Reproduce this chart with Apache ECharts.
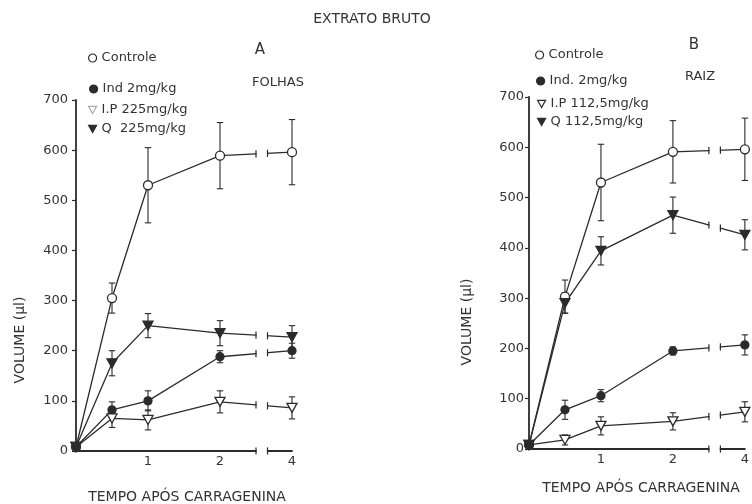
<!DOCTYPE html>
<html>
<head>
<meta charset="utf-8">
<script src="https://cdn.jsdelivr.net/npm/echarts@6/dist/echarts.min.js"></script>
<style>html,body{margin:0;padding:0;background:#fff;}#c{width:752px;height:504px;}</style>
</head>
<body>
<div id="c"></div>
<script>
// ---- data ----
// time after carrageenin (h); the axis is broken after 2.5 h, so 4 h is drawn at axis position 3
const hours = [0, 0.5, 1, 2, 4];
const xPos = [0, 0.5, 1, 2, 3];
const xTickValues = [1, 2, 3];
const xTickLabels = ['1', '2', '4'];
const yTicks = [0, 100, 200, 300, 400, 500, 600, 700];

// Panel A - FOLHAS
const namesA = ['Controle', 'Ind 2mg/kg', 'I.P 225mg/kg', 'Q  225mg/kg'];
const controleA = [8, 305, 530, 589, 596];
const controleAErr = [0, 30, 75, 66, 65];
const indA = [8, 82, 100, 188, 200];
const indAErr = [0, 16, 20, 12, 15];
const ipA = [8, 65, 62, 98, 86];
const ipAErr = [0, 18, 20, 22, 22];
const qA = [8, 175, 250, 235, 227];
const qAErr = [0, 25, 24, 25, 23];

// Panel B - RAIZ
const namesB = ['Controle', 'Ind. 2mg/kg', 'I.P 112,5mg/kg', 'Q 112,5mg/kg'];
const controleB = [8, 303, 530, 591, 596];
const controleBErr = [0, 33, 76, 62, 62];
const indB = [8, 78, 106, 195, 207];
const indBErr = [0, 19, 12, 8, 20];
const ipB = [8, 18, 46, 55, 74];
const ipBErr = [0, 10, 18, 17, 20];
const qB = [8, 290, 394, 465, 426];
const qBErr = [0, 20, 28, 36, 30];

// ---- style ----
const INK = '#2b2b2b';
const TXT = '#333';
const FONT = 'DejaVu Sans';
const GAP = [2.5, 2.66];
const DOWN_TRI = 'path://M0,0L10,0L5,9Z';
const markers = [
  { symbol: 'circle', size: 9, fill: '#fff' },
  { symbol: 'circle', size: 8, fill: INK },
  { symbol: DOWN_TRI, size: [10, 9], fill: '#fff' },
  { symbol: DOWN_TRI, size: [10, 9], fill: INK }
];

function lineSeries(name, vals, k, gi) {
  const m = markers[k];
  return {
    type: 'line', name: name, xAxisIndex: gi, yAxisIndex: gi, z: 3,
    data: xPos.map((x, i) => [x, vals[i]]),
    symbol: m.symbol, symbolSize: m.size, showAllSymbol: true,
    itemStyle: { color: m.fill, borderColor: INK, borderWidth: 1.3 },
    lineStyle: { color: INK, width: 1.3 },
    emphasis: { disabled: true }, animation: false
  };
}
function errSeries(vals, errs, gi) {
  return {
    type: 'custom', xAxisIndex: gi, yAxisIndex: gi, z: 2, silent: true, animation: false,
    encode: { x: 0, y: [1, 2] },
    data: xPos.map((x, i) => [x, vals[i] - errs[i], vals[i] + errs[i]]).filter((d, i) => errs[i] > 0),
    renderItem: function (params, api) {
      const x = api.value(0), lo = api.value(1), hi = api.value(2);
      const p1 = api.coord([x, hi]), p2 = api.coord([x, lo]);
      const c = 3.2, st = { stroke: INK, lineWidth: 1.1 };
      return { type: 'group', children: [
        { type: 'line', shape: { x1: p1[0], y1: p1[1], x2: p2[0], y2: p2[1] }, style: st },
        { type: 'line', shape: { x1: p1[0] - c, y1: p1[1], x2: p1[0] + c, y2: p1[1] }, style: st },
        { type: 'line', shape: { x1: p2[0] - c, y1: p2[1], x2: p2[0] + c, y2: p2[1] }, style: st }
      ] };
    }
  };
}
function breakSeries(groups, gi) {
  // segments crossing the axis break: last segment of each curve plus the x axis line itself
  const rows = groups.map(v => [xPos[3], v[3], xPos[4], v[4]]);
  rows.push([0, 0, xPos[4], 0]);
  return {
    type: 'custom', xAxisIndex: gi, yAxisIndex: gi, z: 10, silent: true, animation: false,
    encode: { x: [0, 2], y: [1, 3] },
    data: rows,
    renderItem: function (params, api) {
      const a = api.coord([api.value(0), api.value(1)]);
      const b = api.coord([api.value(2), api.value(3)]);
      const gs = api.coord([GAP[0], 0])[0], ge = api.coord([GAP[1], 0])[0];
      const yAt = gx => a[1] + (b[1] - a[1]) * (gx - a[0]) / (b[0] - a[0]);
      const ys = yAt(gs), ye = yAt(ge), h = 3.6, w = 3;
      const st = { stroke: INK, lineWidth: 1.2 };
      return { type: 'group', children: [
        { type: 'polygon', shape: { points: [[gs + 0.6, ys - w], [ge - 0.6, ye - w], [ge - 0.6, ye + w], [gs + 0.6, ys + w]] }, style: { fill: '#fff' } },
        { type: 'line', shape: { x1: gs, y1: ys - h, x2: gs, y2: ys + h }, style: st },
        { type: 'line', shape: { x1: ge, y1: ye - h, x2: ge, y2: ye + h }, style: st }
      ] };
    }
  };
}

const groupsA = [controleA, indA, ipA, qA];
const errsA = [controleAErr, indAErr, ipAErr, qAErr];
const groupsB = [controleB, indB, ipB, qB];
const errsB = [controleBErr, indBErr, ipBErr, qBErr];

const series = [];
groupsA.forEach((v, k) => series.push(errSeries(v, errsA[k], 0)));
groupsB.forEach((v, k) => series.push(errSeries(v, errsB[k], 1)));
groupsA.forEach((v, k) => series.push(lineSeries(namesA[k], v, k, 0)));
groupsB.forEach((v, k) => series.push(lineSeries(namesB[k], v, k, 1)));
series.push(breakSeries(groupsA, 0));
series.push(breakSeries(groupsB, 1));

function xAxis(gi) {
  return {
    type: 'value', gridIndex: gi, min: 0, max: 3, interval: 0.5,
    axisLine: { show: true, lineStyle: { color: INK, width: 1.8 } },
    axisTick: { show: false },
    splitLine: { show: false },
    axisLabel: {
      customValues: xTickValues,
      formatter: v => xTickLabels[xTickValues.indexOf(v)],
      color: TXT, fontFamily: FONT, fontSize: 13, margin: 4
    }
  };
}
function yAxis(gi, margin) {
  return {
    type: 'value', gridIndex: gi, min: yTicks[0], max: yTicks[yTicks.length - 1], interval: 100,
    axisLine: { show: true, lineStyle: { color: INK, width: 1.8 } },
    axisTick: { show: true, inside: false, length: 4, lineStyle: { color: INK, width: 1.2 } },
    splitLine: { show: false },
    axisLabel: { color: TXT, fontFamily: FONT, fontSize: 13, margin: margin }
  };
}

// legend positions (marker centres)
const legPosA = [[92, 59], [93, 90], [92, 111], [92, 130]];
const legPosB = [[539, 56], [540, 82], [541, 105], [541, 123]];
const legends = [];
function addLegends(names, pos, fadeIdx) {
  names.forEach((n, k) => {
    const m = markers[k];
    legends.push({
      data: [{ name: n, icon: m.symbol === 'circle' ? 'circle' : DOWN_TRI,
        itemStyle: { color: k === fadeIdx ? '#fff' : m.fill, borderColor: k === fadeIdx ? '#aaa' : INK, borderWidth: 1.2 } }],
      left: pos[k][0] - 4, top: pos[k][1] - 7.5, padding: 0,
      itemWidth: 8, itemHeight: 8, selectedMode: false,
      textStyle: { color: TXT, fontFamily: FONT, fontSize: 13 }
    });
  });
}
addLegends(namesA, legPosA, 2);
addLegends(namesB, legPosB, -1);

function txt(x, y, text, size, rot) {
  return { type: 'text', x: x, y: y, rotation: rot || 0, silent: true,
    style: { text: text, fill: TXT, fontFamily: FONT, fontSize: size, align: 'center', verticalAlign: 'middle' } };
}

const option = {
  backgroundColor: '#fff',
  animation: false,
  grid: [
    { left: 76, top: 100, width: 216, height: 351 },
    { left: 529, top: 97, width: 219, height: 352 }
  ],
  xAxis: [xAxis(0), xAxis(1)],
  yAxis: [yAxis(0, 8), yAxis(1, 5)],
  legend: legends,
  graphic: [
    txt(372, 19, 'EXTRATO BRUTO', 14),
    txt(260, 50, 'A', 15),
    txt(278, 83, 'FOLHAS', 13),
    txt(694, 45, 'B', 15),
    txt(700, 77, 'RAIZ', 13),
    txt(20, 340, 'VOLUME (µl)', 14, Math.PI / 2),
    txt(467, 322, 'VOLUME (µl)', 14, Math.PI / 2),
    txt(187, 497, 'TEMPO APÓS CARRAGENINA', 14),
    txt(641, 488, 'TEMPO APÓS CARRAGENINA', 14)
  ],
  series: series
};
const chart = echarts.init(document.getElementById('c'), null, { renderer: 'canvas' });
chart.setOption(option);
</script>
</body>
</html>
